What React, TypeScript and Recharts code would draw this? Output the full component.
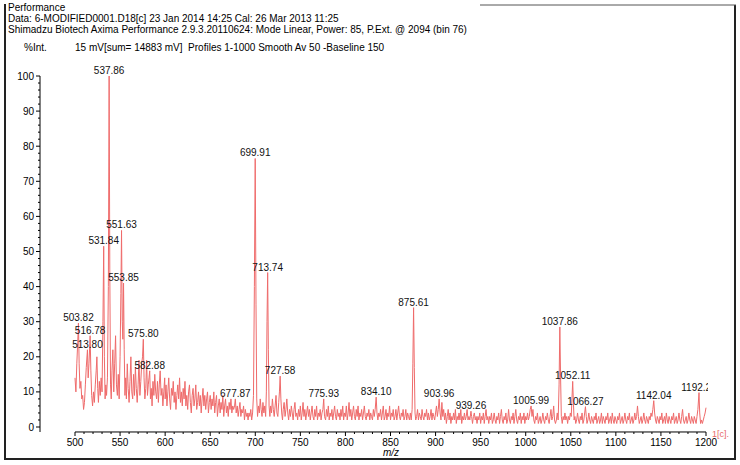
import React from 'react';
import { LineChart, Line, XAxis, YAxis, ReferenceLine, LabelList } from 'recharts';

const W = 740;
const H = 465;
const PLOT_LEFT = 40;
const PLOT_TOP = 76;
const PLOT_RIGHT = 706;
const PLOT_BOTTOM = 432;
const FONT = 'Liberation Sans, Arial, sans-serif';
const LINE_COLOR = '#ef6b6b';

// spectrum, m/z vs % intensity
const seg500: [number, number][] = [
  [500, 14], [501, 10], [502, 18], [503, 24], [503.82, 29.6], [504.6, 18], [505.5, 11], [506.5, 13], [507.5, 8], [508.5, 9],
  [509.5, 5], [510.5, 7], [511.5, 12], [512.5, 17], [513.8, 22], [514.6, 14], [515.5, 18], [516.78, 26], [517.6, 16], [518.5, 9],
  [519.5, 6], [520.5, 10], [521.5, 7], [522.5, 12], [523.5, 16], [524.3, 20], [525.2, 11], [526, 7], [527, 13], [528, 9],
  [529, 14], [530, 10], [531, 30], [531.84, 51.5], [532.6, 20], [533.4, 8], [534.2, 12], [535, 9], [536, 14], [537, 40],
  [537.86, 100], [538.6, 45], [539.4, 12], [540.2, 8], [541, 16], [542, 22], [543, 10], [544, 18], [545, 26], [546, 12],
  [547, 9], [548, 15], [549, 8], [550, 20], [550.9, 38], [551.63, 56], [552.4, 30], [553.1, 25], [553.85, 41], [554.6, 22],
  [555.4, 9], [556.2, 14], [557, 8], [558, 18], [559, 11], [560, 7], [561, 13], [562, 20], [563, 10], [564, 8],
  [565, 15], [566, 9], [567, 17], [568, 11], [569, 7], [570, 12], [571, 19], [572, 9], [573, 13], [574, 18],
  [574.9, 20], [575.8, 25], [576.6, 14], [577.5, 8], [578.5, 11], [579.5, 19], [580.4, 9], [581.3, 12], [582.1, 14], [582.88, 16],
  [583.7, 8], [584.6, 11], [585.5, 6], [586.5, 13], [587.5, 9], [588.5, 15], [589.5, 10], [590.5, 8], [591.5, 13], [592.5, 7],
  [593.5, 12], [594.5, 16], [595.5, 9], [596.5, 11], [597.5, 6], [598.5, 10], [599.5, 14],
];

const seg600: [number, number][] = [
  [600, 8], [601, 12], [602, 6], [603, 10], [604, 14], [605, 8], [606, 5], [607, 11], [608, 9], [609, 13],
  [610, 7], [611, 10], [612, 5], [613, 9], [614, 12], [615, 8], [616, 14], [617, 7], [618, 10], [619, 6],
  [620, 11], [621, 8], [622, 13], [623, 6], [624, 9], [625, 5], [626, 10], [627, 12], [628, 7], [629, 4],
  [630, 9], [631, 11], [632, 6], [633, 8], [634, 12], [635, 5], [636, 7], [637, 10], [638, 6], [639, 9],
  [640, 4], [641, 8], [642, 11], [643, 6], [644, 9], [645, 5], [646, 8], [647, 10], [648, 4], [649, 7],
  [650, 9], [651, 5], [652, 8], [653, 6], [654, 10], [655, 4], [656, 7], [657, 9], [658, 3], [659, 6],
  [660, 8], [661, 4], [662, 7], [663, 5], [664, 9], [665, 3], [666, 6], [667, 8], [668, 4], [669, 6],
  [670, 3], [671, 7], [672, 5], [673, 8], [674, 4], [675, 6], [676, 5], [677, 6], [677.87, 8], [678.8, 4],
  [680, 6], [681, 3], [682, 5], [683, 7], [684, 3], [685, 5], [686, 4], [687, 6], [688, 2], [689, 5],
  [690, 3], [691, 4], [692, 2], [693, 4], [694, 3], [695, 5], [696, 2], [697, 4], [698, 9], [699, 40],
  [699.91, 76.5], [700.8, 35], [701.6, 8], [702.5, 3],
];

const seg700: [number, number][] = [
  [703.5, 6], [704.5, 4], [705.5, 8], [706.5, 5], [707.5, 3], [708.5, 7], [709.5, 4], [710.5, 6], [711.5, 3], [712.3, 10],
  [713, 30], [713.74, 44], [714.5, 22], [715.3, 6], [716.2, 3], [717, 6], [718, 4], [719, 8], [720, 5], [721, 3],
  [722, 6], [723, 9], [724, 4], [725, 3], [726, 7], [726.8, 10], [727.58, 14.5], [728.4, 8], [729.3, 4], [730.2, 2],
  [731, 5], [732, 7], [733, 3], [734, 5], [735, 8], [736, 4], [737, 2], [738, 5], [739, 3], [740, 6],
  [741, 4], [742, 2], [743, 5], [744, 7], [745, 3], [746, 4], [747, 2], [748, 5], [749, 3], [750, 6],
  [751, 2], [752, 4], [753, 7], [754, 3], [755, 5], [756, 2], [757, 4], [758, 6], [759, 3], [760, 5],
  [761, 2], [762, 4], [763, 6], [764, 3], [765, 2], [766, 5], [767, 3], [768, 6], [769, 2], [770, 4],
  [771, 3], [772, 5], [773, 2], [774, 4], [775, 5], [775.93, 8], [776.8, 3], [778, 2], [779, 5], [780, 3],
  [781, 6], [782, 2], [783, 4], [784, 3], [785, 5], [786, 2], [787, 4], [788, 6], [789, 3], [790, 2],
  [791, 5], [792, 3], [793, 4], [794, 2], [795, 5], [796, 3], [797, 6], [798, 2], [799, 4],
];

const seg800: [number, number][] = [
  [800, 3], [801, 6], [802, 2], [803, 4], [804, 7], [805, 3], [806, 5], [807, 2], [808, 4], [809, 6],
  [810, 3], [811, 2], [812, 5], [813, 3], [814, 6], [815, 2], [816, 4], [817, 3], [818, 5], [819, 2],
  [820, 4], [821, 6], [822, 3], [823, 2], [824, 4], [825, 3], [826, 5], [827, 2], [828, 4], [829, 3],
  [830, 2], [831, 5], [832, 3], [833, 5], [834.1, 8.5], [835, 4], [836, 2], [837, 4], [838, 3], [839, 5],
  [840, 2], [841, 4], [842, 6], [843, 2], [844, 3], [845, 5], [846, 2], [847, 4], [848, 3], [849, 6],
  [850, 2], [851, 4], [852, 3], [853, 5], [854, 2], [855, 3], [856, 5], [857, 2], [858, 4], [859, 6],
  [860, 3], [861, 2], [862, 4], [863, 3], [864, 5], [865, 2], [866, 3], [867, 5], [868, 2], [869, 4],
  [870, 3], [871, 2], [872, 4], [873, 2], [874, 5], [874.8, 18], [875.61, 34], [876.4, 17], [877.2, 4], [878, 2],
  [879, 3], [880, 5], [881, 2], [882, 4], [883, 3], [884, 2], [885, 5], [886, 3], [887, 2], [888, 4],
  [889, 3], [890, 5], [891, 2], [892, 4], [893, 2], [894, 3], [895, 5], [896, 2], [897, 4], [898, 3], [899, 2],
];

const seg900: [number, number][] = [
  [900, 4], [901, 6], [902, 3], [903, 5], [903.96, 8], [905, 4], [906, 2], [907, 7], [908, 3], [909, 5],
  [910, 2], [911, 4], [912, 1], [913, 3], [914, 5], [915, 2], [916, 4], [917, 1], [918, 3], [919, 2],
  [920, 4], [921, 2], [922, 5], [923, 1], [924, 3], [925, 2], [926, 4], [927, 2], [928, 5], [929, 1],
  [930, 3], [931, 2], [932, 4], [933, 2], [934, 3], [935, 5], [936, 2], [937, 3], [938, 2], [939.26, 4.5],
  [940, 3], [941, 1], [942, 3], [943, 4], [944, 2], [945, 3], [946, 1], [947, 3], [948, 2], [949, 4],
  [950, 1], [951, 3], [952, 2], [953, 4], [954, 1], [955, 3], [956, 5], [957, 2], [958, 3], [959, 1],
  [960, 3], [961, 2], [962, 4], [963, 1], [964, 2], [965, 4], [966, 2], [967, 1], [968, 3], [969, 2],
  [970, 4], [971, 1], [972, 3], [973, 5], [974, 2], [975, 1], [976, 3], [977, 2], [978, 4], [979, 1],
  [980, 2], [981, 5], [982, 2], [983, 1], [984, 3], [985, 2], [986, 4], [987, 1], [988, 3], [989, 5],
  [990, 2], [991, 1], [992, 3], [993, 2], [994, 4], [995, 1], [996, 3], [997, 2], [998, 4], [999, 1],
];

const seg1000: [number, number][] = [
  [1000, 3], [1001, 2], [1002, 4], [1003, 2], [1004, 3], [1005, 5], [1005.99, 6], [1007, 3], [1008, 5], [1009, 2],
  [1010, 1], [1011, 3], [1012, 2], [1013, 4], [1014, 1], [1015, 2], [1016, 3], [1017, 1], [1018, 2], [1019, 4],
  [1020, 2], [1021, 1], [1022, 3], [1023, 2], [1024, 4], [1025, 2], [1026, 1], [1027, 3], [1028, 5], [1029, 2],
  [1030, 3], [1031, 6], [1032, 2], [1033, 1], [1034, 2], [1035, 4], [1036, 2], [1037, 12], [1037.86, 28.5], [1038.7, 14],
  [1039.5, 3], [1040.5, 1], [1041.5, 3], [1042.5, 2], [1043.5, 4], [1044.5, 2], [1045.5, 3], [1046.5, 1], [1047.5, 3], [1048.5, 2],
  [1049.5, 4], [1050.5, 3], [1051.3, 8], [1052.11, 13], [1052.9, 7], [1053.7, 2], [1054.6, 3], [1055.5, 1], [1056.5, 2], [1057.5, 4],
  [1058.5, 2], [1059.5, 1], [1060.5, 3], [1061.5, 2], [1062.5, 4], [1063.5, 1], [1064.5, 2], [1065.4, 4], [1066.27, 5.8], [1067.2, 3],
  [1068, 1], [1069, 2], [1070, 4], [1071, 2], [1072, 1], [1073, 3], [1074, 2], [1075, 1], [1076, 3], [1077, 2],
  [1078, 4], [1079, 1], [1080, 2], [1081, 3], [1082, 1], [1083, 2], [1084, 4], [1085, 1], [1086, 3], [1087, 2],
  [1088, 1], [1089, 3], [1090, 2], [1091, 4], [1092, 1], [1093, 2], [1094, 3], [1095, 1], [1096, 4], [1097, 2], [1098, 1], [1099, 3],
];

const seg1100: [number, number][] = [
  [1100, 2], [1101, 1], [1102, 3], [1103, 2], [1104, 4], [1105, 1], [1106, 2], [1107, 3], [1108, 1], [1109, 2],
  [1110, 4], [1111, 2], [1112, 1], [1113, 3], [1114, 2], [1115, 4], [1116, 1], [1117, 2], [1118, 3], [1119, 1],
  [1120, 2], [1121, 4], [1122, 2], [1123, 3], [1124, 6], [1125, 3], [1126, 1], [1127, 2], [1128, 3], [1129, 1],
  [1130, 2], [1131, 4], [1132, 2], [1133, 1], [1134, 3], [1135, 2], [1136, 1], [1137, 3], [1138, 2], [1139, 4],
  [1140, 3], [1141, 5], [1142.04, 7.5], [1143, 4], [1144, 2], [1145, 1], [1146, 3], [1147, 2], [1148, 1], [1149, 3],
  [1150, 2], [1151, 4], [1152, 1], [1153, 2], [1154, 3], [1155, 1], [1156, 4], [1157, 2], [1158, 1], [1159, 3],
  [1160, 2], [1161, 1], [1162, 3], [1163, 2], [1164, 4], [1165, 1], [1166, 2], [1167, 3], [1168, 1], [1169, 2],
  [1170, 4], [1171, 2], [1172, 1], [1173, 3], [1174, 5], [1175, 2], [1176, 1], [1177, 2], [1178, 3], [1179, 1],
  [1180, 2], [1181, 4], [1182, 2], [1183, 1], [1184, 3], [1185, 2], [1186, 1], [1187, 3], [1188, 2], [1189, 1],
  [1190, 3], [1191, 5], [1192.24, 9.8], [1193, 4], [1194, 1], [1195, 2], [1196, 1], [1197, 2], [1198, 3], [1199, 4], [1200, 5.5],
];

const peakMz = [503.82, 513.8, 516.78, 531.84, 537.86, 551.63, 553.85, 575.8, 582.88, 677.87, 699.91, 713.74, 727.58, 775.93,
  834.1, 875.61, 903.96, 939.26, 1005.99, 1037.86, 1052.11, 1066.27, 1142.04, 1192.24];
const peakLabels = ['503.82', '513.80', '516.78', '531.84', '537.86', '551.63', '553.85', '575.80', '582.88', '677.87', '699.91',
  '713.74', '727.58', '775.93', '834.10', '875.61', '903.96', '939.26', '1005.99', '1037.86', '1052.11', '1066.27', '1142.04', '1192.24'];

const xMajor = [500, 550, 600, 650, 700, 750, 800, 850, 900, 950, 1000, 1050, 1100, 1150, 1200];
const xTicks = Array.from({ length: 71 }, (_, i) => 500 + i * 10);
const yMajor = [0, 10, 20, 30, 40, 50, 60, 70, 80, 90, 100];
const yTicks = Array.from({ length: 51 }, (_, i) => i * 2);

const headerLines = [
  'Performance',
  'Data: 6-MODIFIED0001.D18[c] 23 Jan 2014 14:25 Cal: 26 Mar 2013 11:25',
  'Shimadzu Biotech Axima Performance 2.9.3.20110624: Mode Linear, Power: 85, P.Ext. @ 2094 (bin 76)',
];
const yTitle = '%Int.';
const infoLine = '15 mV[sum= 14883 mV]  Profiles 1-1000 Smooth Av 50 -Baseline 150';
const xTitle = 'm/z';
const traceTag = '1[c].';

const spectrum = [...seg500, ...seg600, ...seg700, ...seg800, ...seg900, ...seg1000, ...seg1100].map(([mz, v]) => {
  const k = peakMz.findIndex((p) => Math.abs(p - mz) < 0.001);
  return { mz, v, label: k >= 0 ? peakLabels[k] : undefined };
});

const XTick = (props: any) => {
  const { x, y, payload } = props;
  const major = xMajor.includes(payload.value);
  return (
    <g>
      <line x1={x} x2={x} y1={y} y2={y + (major ? 4 : 2)} stroke="#000" strokeWidth={1} />
      {major && (
        <text x={x} y={y + 14} textAnchor="middle" fontSize={10} fontFamily={FONT} fill="#000">
          {payload.value}
        </text>
      )}
    </g>
  );
};

const YTick = (props: any) => {
  const { x, y, payload } = props;
  const major = yMajor.includes(payload.value);
  return (
    <g>
      <line x1={x - (major ? 4 : 2)} x2={x} y1={y} y2={y} stroke="#000" strokeWidth={1} />
      {major && (
        <text x={x - 6} y={y + 3.5} textAnchor="end" fontSize={10} fontFamily={FONT} fill="#000">
          {payload.value}
        </text>
      )}
    </g>
  );
};

const PeakLabel = (props: any) => {
  const { x, y, value } = props;
  if (!value) return null;
  const id = 'pk' + String(value).replace('.', '_');
  return (
    <g>
      <defs>
        <clipPath id={id}>
          <rect x={0} y={0} width={PLOT_RIGHT + 2} height={H} />
        </clipPath>
      </defs>
      <text x={x} y={y - 2} textAnchor="middle" fontSize={10} fontFamily={FONT} fill="#111" clipPath={`url(#${id})`}>
        {value}
      </text>
    </g>
  );
};

export default function App() {
  return (
    <div style={{ position: 'fixed', left: 0, top: 0, width: W, height: H, background: '#fff' }}>
      <LineChart
        width={W}
        height={H}
        data={spectrum}
        margin={{ top: PLOT_TOP, right: W - PLOT_RIGHT, bottom: 0, left: 0 }}
      >
        <XAxis
          dataKey="mz"
          type="number"
          domain={[500, 1200]}
          ticks={xTicks}
          interval={0}
          padding={{ left: 35, right: 0 }}
          axisLine={false}
          tickLine={false}
          tickSize={0}
          tickMargin={0}
          tick={<XTick />}
          height={H - PLOT_BOTTOM}
        />
        <YAxis
          type="number"
          domain={[0, 100]}
          ticks={yTicks}
          interval={0}
          padding={{ top: 0, bottom: 5 }}
          width={PLOT_LEFT}
          axisLine={{ stroke: '#000', strokeWidth: 1 }}
          tickLine={false}
          tickSize={0}
          tickMargin={0}
          tick={<YTick />}
        />
        <ReferenceLine
          segment={[{ x: 500, y: -1.42 }, { x: 1200, y: -1.42 }]}
          stroke="#000"
          strokeWidth={1}
          ifOverflow="visible"
        />
        <Line
          dataKey="v"
          type="linear"
          stroke={LINE_COLOR}
          strokeWidth={1}
          dot={false}
          activeDot={false}
          isAnimationActive={false}
        >
          <LabelList dataKey="label" content={<PeakLabel />} />
        </Line>
      </LineChart>
      <svg width={W} height={H} style={{ position: 'absolute', left: 0, top: 0, pointerEvents: 'none' }}>
        <line x1={5} y1={4} x2={5} y2={460} stroke="#222" strokeWidth={2} />
        <line x1={4} y1={459} x2={736} y2={459} stroke="#222" strokeWidth={2} />
        <line x1={735} y1={5} x2={735} y2={460} stroke="#222" strokeWidth={2} />
        <line x1={480} y1={5} x2={736} y2={5} stroke="#555" strokeWidth={1} />
        {headerLines.map((t, i) => (
          <text key={i} x={8} y={11 + i * 11} fontSize={10} fontFamily={FONT} fill="#000">
            {t}
          </text>
        ))}
        <text x={24} y={51} fontSize={10} fontFamily={FONT} fill="#000">{yTitle}</text>
        <text x={75} y={51} fontSize={10} fontFamily={FONT} fill="#000" style={{ whiteSpace: 'pre' }}>{infoLine}</text>
        <text x={391} y={456} fontSize={10} fontFamily={FONT} fontStyle="italic" textAnchor="middle" fill="#000">{xTitle}</text>
        <text x={712} y={437} fontSize={9} fontFamily={FONT} fill="#e86a6a">{traceTag}</text>
      </svg>
    </div>
  );
}
